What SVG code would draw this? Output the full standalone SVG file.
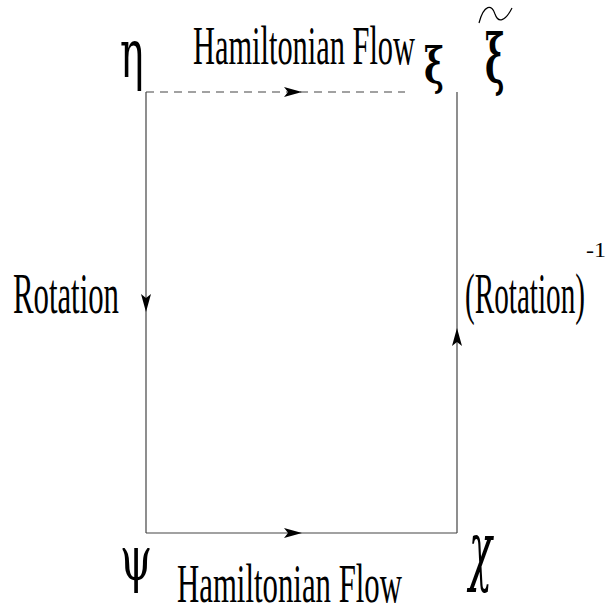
<svg xmlns="http://www.w3.org/2000/svg" width="610" height="615" viewBox="0 0 610 615">
<defs>
<style>
.ln{stroke:#444;stroke-width:1.2;fill:none}
.t{font-family:"Liberation Serif","Times New Roman",serif;fill:#000}
.g{font-family:"DejaVu Serif","Liberation Serif",serif;fill:#000}
</style>
<path id="ah" d="M0,0 L-18,-5 L-14,0 L-18,5 Z" fill="#000"/>
</defs>
<rect width="610" height="615" fill="#fff"/>
<g id="connectors">
<line class="ln" x1="146" y1="92" x2="405" y2="92" stroke-dasharray="8,6"/>
<use href="#ah" transform="translate(302,92)"/>
<line class="ln" x1="146" y1="92" x2="146" y2="533"/>
<use href="#ah" transform="translate(146,312) rotate(90)"/>
<line class="ln" x1="146" y1="533" x2="457" y2="533"/>
<use href="#ah" transform="translate(302,533)"/>
<line class="ln" x1="457" y1="92" x2="457" y2="533"/>
<use href="#ah" transform="translate(457,328) rotate(-90)"/>
</g>
<g id="eta"><text class="g" transform="translate(120,77) scale(0.58,1)" font-size="68">η</text></g>
<g id="xi"><text class="g" transform="translate(424,83) scale(0.66,1)" font-size="51" font-weight="bold">ξ</text></g>
<g id="xitilde"><text class="g" transform="translate(485,82) scale(0.66,1.35)" font-size="50" font-weight="bold">ξ</text>
<path d="M479,23 C484,4 492,4 495,14 C498,23 505,22 512,8" stroke="#000" stroke-width="1.2" fill="none"/></g>
<g id="psi"><text class="g" transform="translate(120,580) scale(0.66,1)" font-size="62">ψ</text></g>
<g id="chi"><text class="g" transform="translate(469,576) scale(0.5,1)" font-size="76" font-style="italic">χ</text></g>
<g id="labels">
<text class="t" x="193" y="64" font-size="55" textLength="222" lengthAdjust="spacingAndGlyphs">Hamiltonian Flow</text>
<text class="t" x="177" y="602" font-size="55" textLength="225" lengthAdjust="spacingAndGlyphs">Hamiltonian Flow</text>
<text class="t" x="13" y="313" font-size="57" textLength="106" lengthAdjust="spacingAndGlyphs">Rotation</text>
<text class="t" x="465" y="313" font-size="57" textLength="120" lengthAdjust="spacingAndGlyphs">(Rotation)</text>
<text class="t" x="586" y="257" font-size="22" textLength="20" lengthAdjust="spacingAndGlyphs">-1</text>
</g>
</svg>
